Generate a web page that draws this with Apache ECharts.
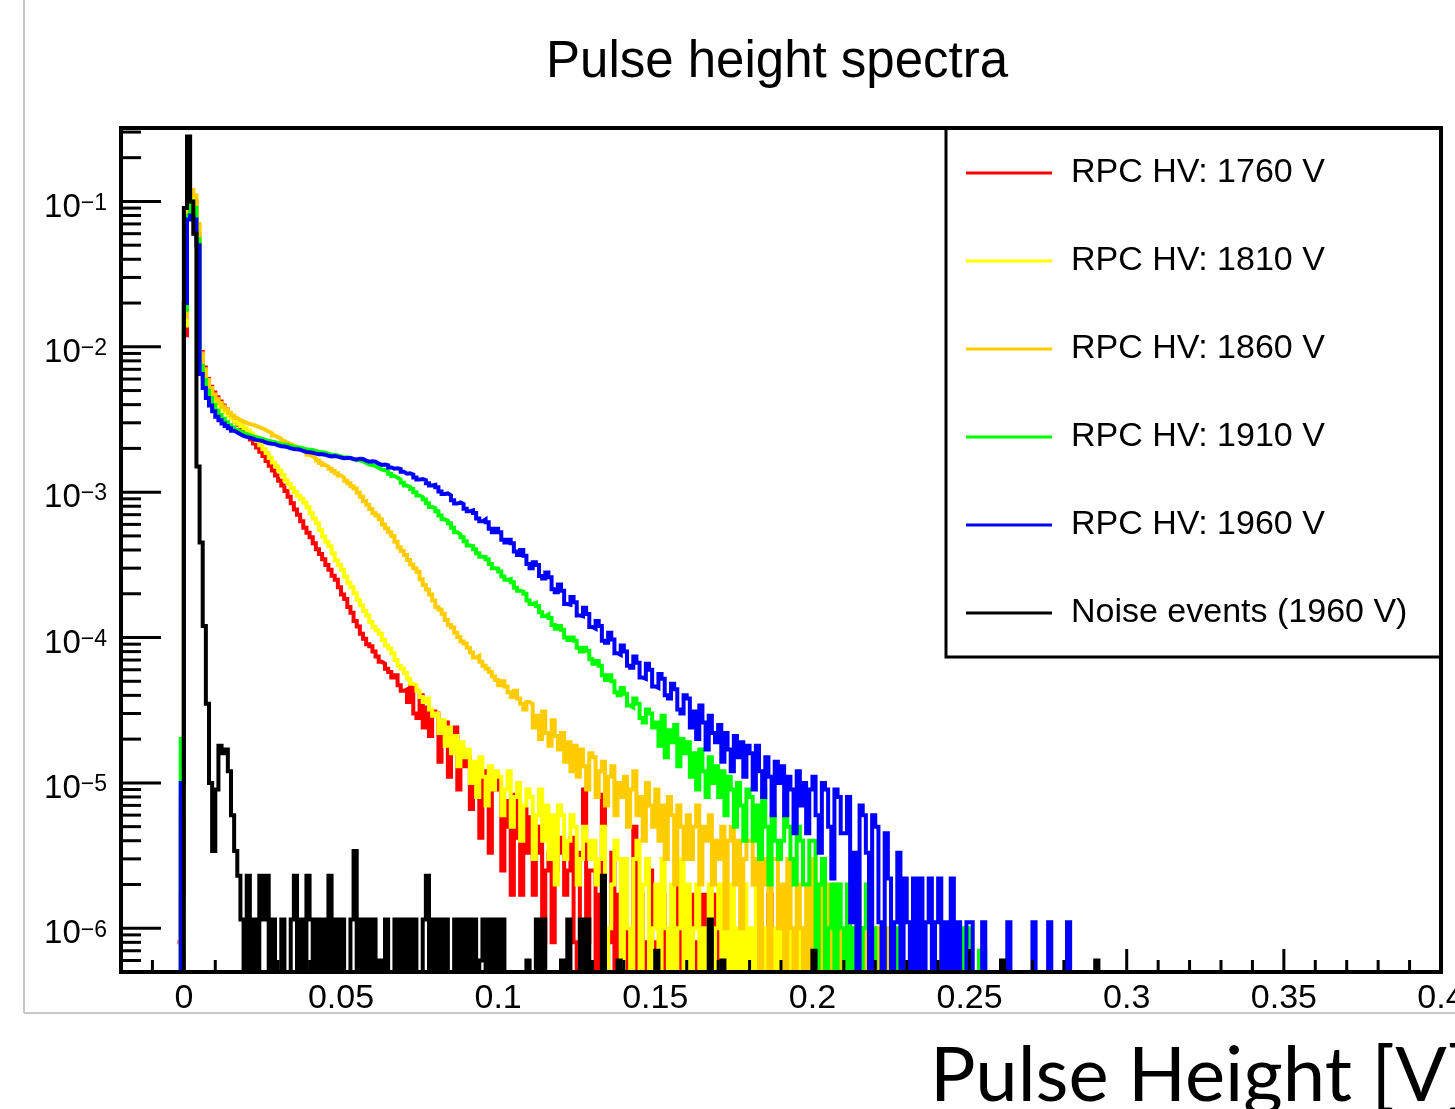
<!DOCTYPE html>
<html>
<head>
<meta charset="utf-8">
<title>Pulse height spectra</title>
<script src="https://cdn.jsdelivr.net/npm/echarts@6/dist/echarts.min.js"></script>
<style>
  html, body { margin: 0; padding: 0; background: #fff; }
  #chart { width: 1455px; height: 1109px; }
</style>
</head>
<body>
<div id="chart"></div>
<script>
// histograms: 1 mV bins, first bin starts at -2 mV; values are in units of 1e-6
const binStart = -0.002;
const binWidth = 0.001;
const unit = 1e-6;

const seriesNames = ['RPC HV: 1760 V', 'RPC HV: 1810 V', 'RPC HV: 1860 V', 'RPC HV: 1910 V', 'RPC HV: 1960 V', 'Noise events (1960 V)'];
const seriesColors = ['#ff0000', '#ffff00', '#ffcc00', '#00ff00', '#0000ff', '#000000'];

const hv1760 = [
  0.8, 1.7,
  12000, 85000, 110000, 100000, 60000, 9200, 7200, 6000, 5300, 4850,
  4500, 4200, 3950, 3700, 3480, 3270, 3080, 2910, 2750, 2600,
  2450, 2300, 2160, 2030, 1900, 1770, 1640, 1520, 1410, 1300,
  1200, 1110, 1020, 930, 840, 760, 700, 630, 570, 525,
  490, 445, 405, 375, 345, 315, 292, 266, 250, 222,
  198, 184, 162, 148, 130, 119, 106, 98, 90, 87,
  80, 74, 68, 66, 61, 58, 53, 55, 47, 43,
  44, 36, 47, 30, 28, 40, 24, 33, 21, 31,
  30, 14, 22, 26, 11, 19, 24, 9, 17, 13,
  15, 6.6, 13, 10, 4.2, 12, 8.3, 3.3, 9, 11,
  9, 2.5, 7.5, 5, 1.7, 8.3, 4.2, 1.7, 6.6, 3.3,
  5.8, 1.7, 3.3, 5, 0.8, 2.5, 3.3, 0.8, 2.5, 4.2,
  3.3, 1.7, 2.5, 4.2, 0.8, 0, 3.3, 9, 0.8, 2.5,
  2.5, 0, 1.7, 8.3, 0, 0.8, 3.3, 0, 1.7, 0,
  1.7, 0, 0.8, 5, 0, 1.7, 0.8, 0, 2.5, 0,
  0.8, 0, 1.7, 0, 0.8, 0, 0.8, 2.5, 0, 0.8,
  0, 1.7, 0, 0.8, 0, 1.7, 0, 0.8, 0, 1.7,
  0, 0.8, 0, 1.7, 0, 0, 0.8, 0, 0, 0.8,
  0, 0, 0.8, 0, 0, 0, 1.7, 0, 0, 0.8,
  0, 0, 0, 0.8, 0, 0, 0, 0, 0.8, 0,
  0, 0, 0.8, 0, 0, 0, 0.8
];

const hv1810 = [
  0, 6,
  14000, 88000, 112000, 105000, 65000, 8700, 6800, 5800, 5100, 4600,
  4200, 3950, 3720, 3530, 3360, 3200, 3070, 2950, 2850, 2750,
  2650, 2530, 2410, 2250, 2100, 1970, 1860, 1720, 1600, 1500,
  1410, 1310, 1210, 1140, 1070, 1000, 945, 900, 850, 785,
  715, 660, 610, 550, 495, 455, 425, 380, 340, 315,
  292, 262, 238, 222, 202, 182, 167, 152, 142, 128,
  118, 112, 106, 96, 88, 84, 78, 70, 64, 61,
  57, 52, 48, 47, 43, 39, 36, 38, 32, 29,
  30, 22, 27, 18, 24, 16, 21, 13, 19, 15,
  17, 10, 14, 8, 15, 11, 7, 13, 9, 12,
  11, 6, 9, 12, 5, 8, 10, 4, 7, 9,
  8, 3, 6, 9, 4, 7, 3, 6, 2, 7,
  6, 3, 4, 6, 5, 2, 3, 5, 4, 3,
  4, 2, 3, 5, 0, 1, 2, 4, 3, 0,
  3, 1, 0, 3, 4, 0, 2, 3, 0, 1,
  2, 0, 3, 1, 0, 2, 0, 1, 3, 0,
  2, 0, 1, 2, 0, 1, 0, 2, 0, 1,
  2, 0, 1, 0, 2, 0, 1, 0, 2, 0,
  1, 0, 2, 0, 1, 0, 1, 0, 1, 0,
  1, 0, 2, 0, 0, 1, 0, 1, 0, 0,
  1, 0, 0, 1, 0, 0, 1, 0, 0, 1,
  0, 0, 1, 0, 0, 1
];

const hv1860 = [
  0, 8,
  16000, 90000, 120000, 110000, 70000, 9000, 7000, 5900, 5200, 4700,
  4350, 4100, 3880, 3700, 3520, 3370, 3240, 3140, 3070, 3000,
  2940, 2910, 2860, 2800, 2740, 2680, 2610, 2540, 2450, 2390,
  2330, 2250, 2190, 2150, 2100, 2040, 1970, 1920, 1870, 1810,
  1760, 1710, 1650, 1590, 1540, 1500, 1450, 1400, 1350, 1300,
  1260, 1200, 1150, 1100, 1060, 990, 930, 870, 820, 765,
  715, 690, 650, 600, 565, 530, 500, 455, 418, 393,
  370, 342, 318, 300, 283, 252, 230, 214, 198, 180,
  162, 156, 146, 132, 122, 117, 108, 101, 94, 91,
  85, 79, 73, 75, 68, 64, 61, 58, 54, 51,
  47, 50, 46, 42, 39, 43, 38, 35, 32, 36,
  35, 24, 29, 20, 31, 22, 18, 27, 21, 17,
  22, 14, 19, 12, 18, 11, 17, 13, 9, 16,
  15, 8, 12, 14, 7, 11, 13, 6, 10, 8,
  11, 5, 9, 12, 6, 8, 4, 10, 7, 5,
  9, 4, 7, 3, 8, 6, 2, 7, 5, 3,
  6, 3, 5, 7, 2, 5, 4, 6, 2, 4,
  3, 5, 1, 4, 5, 2, 4, 1, 3, 4,
  4, 2, 3, 0, 3, 2, 0, 3, 3, 1,
  2, 0, 3, 1, 0, 2, 1, 0, 2, 0,
  3, 0, 2, 0, 2, 1, 0, 2, 0, 1,
  1, 0, 1, 0, 2, 0, 1, 0, 1, 0,
  1, 0, 0, 1, 0, 0, 0.6
];

const hv1910 = [
  0, 20,
  18000, 80000, 100000, 90000, 55000, 7400, 5900, 5000, 4450, 4000,
  3650, 3400, 3200, 3030, 2890, 2780, 2690, 2620, 2560, 2510,
  2470, 2420, 2385, 2360, 2330, 2290, 2255, 2230, 2210, 2170,
  2140, 2130, 2110, 2080, 2050, 2040, 2030, 2000, 1970, 1960,
  1950, 1920, 1890, 1880, 1870, 1840, 1810, 1800, 1790, 1760,
  1730, 1735, 1720, 1690, 1660, 1655, 1630, 1590, 1550, 1535,
  1510, 1470, 1430, 1415, 1390, 1340, 1290, 1255, 1220, 1160,
  1110, 1085, 1050, 1000, 950, 925, 890, 840, 790, 775,
  740, 690, 650, 635, 610, 570, 530, 515, 490, 460,
  430, 425, 405, 380, 360, 358, 345, 320, 300, 298,
  285, 263, 250, 252, 240, 220, 210, 207, 200, 180,
  170, 173, 165, 149, 140, 144, 136, 122, 115, 120,
  113, 100, 96, 100, 95, 85, 80, 85, 81, 71,
  66, 69, 64, 55, 51, 55, 50, 42, 40, 45,
  41, 34, 33, 38, 35, 28, 26, 32, 30, 24,
  26, 18, 29, 15, 23, 19, 25, 13, 20, 16,
  19, 11, 16, 9, 17, 12, 8, 15, 10, 13,
  8, 12, 6, 11, 9, 5, 10, 7, 4, 9,
  8, 4, 7, 3, 9, 5, 2, 6, 4, 3,
  4, 6, 5, 3, 2, 5, 4, 2, 2, 4,
  4, 0, 2, 3, 0, 1, 2, 0, 2, 1,
  0, 2, 0, 1, 0, 0, 1, 2, 0, 1,
  0, 0, 1, 0, 0, 0, 1, 0, 0, 0,
  0, 0, 0, 0, 0, 0, 0, 0, 0, 0,
  0, 0, 0, 0, 0, 0, 0, 1, 0, 1,
  0, 0, 0, 0.7, 0.7
];

const hv1960 = [
  0, 10,
  20000, 75000, 80000, 75000, 50000, 6500, 5200, 4450, 3950, 3600,
  3300, 3120, 2970, 2850, 2750, 2650, 2570, 2500, 2440, 2400,
  2370, 2330, 2290, 2270, 2250, 2200, 2170, 2150, 2140, 2100,
  2070, 2060, 2040, 2000, 1980, 1970, 1960, 1920, 1890, 1880,
  1870, 1840, 1820, 1825, 1810, 1780, 1760, 1770, 1755, 1730,
  1710, 1720, 1715, 1690, 1680, 1700, 1690, 1650, 1620, 1630,
  1620, 1570, 1540, 1550, 1530, 1480, 1450, 1460, 1440, 1380,
  1340, 1350, 1320, 1260, 1220, 1230, 1210, 1150, 1110, 1120,
  1080, 1010, 970, 980, 950, 880, 835, 850, 830, 770,
  740, 750, 720, 660, 630, 650, 620, 560, 530, 560,
  530, 470, 450, 470, 445, 390, 370, 400, 365, 320,
  300, 330, 315, 265, 255, 280, 260, 215, 205, 232,
  210, 170, 168, 190, 175, 142, 140, 160, 145, 118,
  115, 130, 120, 95, 92, 108, 97, 78, 76, 88,
  80, 64, 62, 74, 67, 53, 52, 66, 60, 46,
  45, 56, 52, 40, 38, 48, 44, 32, 30, 40,
  38, 24, 31, 20, 34, 26, 17, 29, 22, 19,
  25, 14, 22, 17, 12, 21, 15, 19, 11, 18,
  16, 9, 18, 12, 8, 15, 11, 6, 14, 10,
  13, 6, 11, 9, 4.5, 12, 7, 10, 4.5, 9,
  11, 6, 3.3, 10, 9, 5, 2.2, 9, 8, 4.5,
  4.5, 8, 1.1, 3.3, 0, 7, 6, 3.3, 0, 6,
  5, 1.1, 0, 4.5, 2.2, 0, 1.1, 3.3, 0, 2.2,
  1.1, 0, 2.2, 0, 2.2, 0, 1.1, 2.2, 0, 1.1,
  2.2, 0, 1.1, 0, 2.2, 0, 1.1, 0, 0, 1.1,
  1.1, 0, 0, 0, 1.1, 0, 0, 0, 0, 0,
  0, 0, 1.1, 0, 0, 0, 0, 0, 0, 0,
  1.1, 0, 0, 0, 0, 1.1, 0, 0, 0, 0,
  0, 1.1
];

const noise1960 = [
  0, 0,
  90000, 280000, 100000, 60000, 1500, 450, 120, 35, 10, 3.4,
  9, 18, 16, 17, 12, 6, 3.4, 2.3, 1.15, 0,
  2.3, 0, 1.15, 0, 2.3, 1.15, 2.3, 0, 1.15, 0,
  0, 1.15, 0, 0, 1.15, 2.3, 0, 1.15, 0, 2.3,
  1.15, 0, 1.15, 0, 1.15, 0, 2.3, 0, 1.15, 0,
  1.15, 0, 0, 1.15, 3.4, 0, 1.15, 0, 1.15, 0,
  1.15, 0, 0.6, 0, 1.15, 0, 0, 1.15, 0, 1.15,
  0, 1.15, 0, 1.15, 0, 0, 1.15, 2.3, 0, 1.15,
  0, 1.15, 0, 1.15, 0, 0, 1.15, 0, 1.15, 0,
  1.15, 0, 1.15, 0, 0.6, 1.15, 0, 1.15, 0, 1.15,
  0, 1.15, 0, 0, 0, 0, 0, 0, 0, 0.6,
  0, 0, 1.15, 0, 1.15, 0, 0, 0, 0, 0,
  0.6, 0, 1.15, 0, 0, 0, 1.15, 0, 1.15, 0,
  0, 0, 0, 2.3, 0, 0, 0, 0, 0.6, 0,
  0, 0, 0, 0, 0, 0, 0, 0, 0, 0,
  0.7, 0, 0, 0, 0, 0, 0, 0, 0, 0,
  0, 0, 0, 0, 0, 0, 0, 1.15, 0, 0,
  0, 0.6, 0, 0, 0, 0, 0, 0, 0, 0,
  0, 0, 0, 0, 0, 0, 0, 0, 0, 0,
  0, 0, 0, 0, 0, 0, 0, 0, 0, 0,
  0.7, 0, 0, 0, 0, 0, 0, 0, 0, 0,
  0, 0, 0, 0, 0, 0, 0, 0, 0, 0,
  0, 0, 0, 0, 0, 0, 0, 0, 0, 0,
  0, 0, 0, 0, 0, 0, 0, 0, 0, 0,
  0, 0, 0, 0, 0, 0, 0, 0, 0, 0,
  0, 0, 0, 0, 0, 0, 0, 0, 0, 0,
  0.6, 0, 0, 0, 0, 0, 0, 0, 0, 0,
  0, 0, 0, 0, 0, 0, 0, 0, 0, 0,
  0, 0, 0, 0, 0, 0, 0, 0, 0, 0,
  0.6
];

const spectra = [hv1760, hv1810, hv1860, hv1910, hv1960, noise1960];

// axes
const xMin = -0.02, xMax = 0.4;
const yMin = 5e-7, yMax = 0.32;
const xMajorTicks = [0, 0.05, 0.1, 0.15, 0.2, 0.25, 0.3, 0.35, 0.4];
const yMajorTicks = [1e-6, 1e-5, 1e-4, 1e-3, 1e-2, 1e-1];

const FONT = '"Liberation Sans", Helvetica, Arial, sans-serif';

// bin contents -> step points; empty bins fall below the axis and get clipped
function toSteps(counts) {
  const floor = 1e-9;
  const pts = counts.map((c, i) => [+(binStart + i * binWidth).toFixed(3), c > 0 ? c * unit : floor]);
  pts.push([+(binStart + counts.length * binWidth).toFixed(3), floor]);
  return pts;
}

const chart = echarts.init(document.getElementById('chart'));

chart.setOption({
  animation: false,
  backgroundColor: '#fff',
  title: {
    text: 'Pulse height spectra',
    left: 546,
    top: 37,
    padding: 0,
    textStyle: { fontFamily: FONT, fontSize: 51, fontWeight: 'normal', color: '#000' }
  },
  legend: {
    data: seriesNames,
    orient: 'vertical',
    left: 946,
    top: 128,
    padding: [28, 0, 0, 20],
    itemGap: 54,
    itemWidth: 86,
    itemHeight: 3,
    icon: 'rect',
    selectedMode: false,
    itemStyle: { borderWidth: 0 },
    textStyle: { fontFamily: FONT, fontSize: 34, lineHeight: 34, color: '#000', padding: [0, 0, 0, 14] }
  },
  grid: { left: 121, top: 128, width: 1320, height: 844, containLabel: false, outerBoundsMode: 'none' },
  xAxis: {
    type: 'value',
    min: xMin,
    max: xMax,
    splitNumber: 8,
    axisLine: { show: false },
    axisTick: { show: false },
    splitLine: { show: false },
    axisLabel: {
      fontFamily: FONT,
      fontSize: 34,
      color: '#000',
      margin: 10,
      showMinLabel: false,
      formatter: v => xMajorTicks.some(t => Math.abs(t - v) < 1e-9) ? String(+v.toFixed(2)) : ''
    }
  },
  yAxis: {
    type: 'log',
    logBase: 10,
    min: yMin,
    max: yMax,
    axisLine: { show: false },
    axisTick: { show: false },
    splitLine: { show: false },
    axisLabel: {
      margin: 14,
      formatter: v => {
        const e = Math.log10(v);
        const r = Math.round(e);
        if (Math.abs(e - r) > 1e-6) return '';
        return '{b|10}{e|\u2212' + (-r) + '}';
      },
      rich: {
        b: { fontFamily: FONT, fontSize: 33, lineHeight: 33, color: '#000', padding: [12, 0, 0, 0] },
        e: { fontFamily: FONT, fontSize: 23, lineHeight: 23, color: '#000', verticalAlign: 'top', padding: [7, 0, 0, 0] }
      }
    }
  },
  series: spectra.map((counts, i) => ({
    name: seriesNames[i],
    type: 'line',
    step: 'end',
    symbol: 'none',
    showSymbol: false,
    clip: true,
    silent: true,
    z: 2,
    color: seriesColors[i],
    lineStyle: { width: 4, color: seriesColors[i], join: 'miter', cap: 'butt' },
    emphasis: { disabled: true },
    data: toSteps(counts)
  }))
});

// ROOT style frame, inward ticks, legend box and page decorations
const px = v => chart.convertToPixel({ xAxisIndex: 0 }, v);
const py = v => chart.convertToPixel({ yAxisIndex: 0 }, v);
const frameL = px(xMin), frameR = px(xMax), frameT = py(yMax), frameB = py(yMin);

const xMinorTicks = [];
for (let k = -1; k < 40; k++) {
  if (k % 5 !== 0) xMinorTicks.push(k / 100);
}
const yMinorTicks = [];
for (let e = -7; e <= -1; e++) {
  for (let m = 2; m <= 9; m++) {
    const v = m * Math.pow(10, e);
    if (v > yMin && v < yMax) yMinorTicks.push(v);
  }
}

const marks = [];
const tick = (x1, y1, x2, y2) => marks.push({
  type: 'line', z: 100, silent: true,
  shape: { x1, y1, x2, y2 },
  style: { stroke: '#000', lineWidth: 3 }
});
xMajorTicks.forEach(v => tick(px(v), frameB, px(v), frameB - 23));
xMinorTicks.forEach(v => tick(px(v), frameB, px(v), frameB - 12));
yMajorTicks.forEach(v => tick(frameL, py(v), frameL + 40, py(v)));
yMinorTicks.forEach(v => tick(frameL, py(v), frameL + 20, py(v)));

marks.push({
  type: 'rect', z: 3, silent: true,
  shape: { x: 946, y: frameT, width: frameR - 946, height: 657 - frameT },
  style: { fill: '#fff', stroke: '#000', lineWidth: 3 }
});
marks.push({
  type: 'rect', z: 100, silent: true,
  shape: { x: frameL, y: frameT, width: frameR - frameL, height: frameB - frameT },
  style: { fill: null, stroke: '#000', lineWidth: 4 }
});
marks.push({
  type: 'line', z: 0, silent: true,
  shape: { x1: 24, y1: 0, x2: 24, y2: 1013 },
  style: { stroke: '#c8c8c8', lineWidth: 2 }
});
marks.push({
  type: 'line', z: 0, silent: true,
  shape: { x1: 24, y1: 1013, x2: 1455, y2: 1013 },
  style: { stroke: '#c8c8c8', lineWidth: 2 }
});
marks.push({
  type: 'text', z: 100, silent: true,
  x: 930, y: 1076,
  style: { text: 'Pulse Height [V]', fontFamily: 'Lato', fontSize: 76, fill: '#000', verticalAlign: 'middle' }
});

chart.setOption({ graphic: { elements: marks } });
</script>
</body>
</html>
